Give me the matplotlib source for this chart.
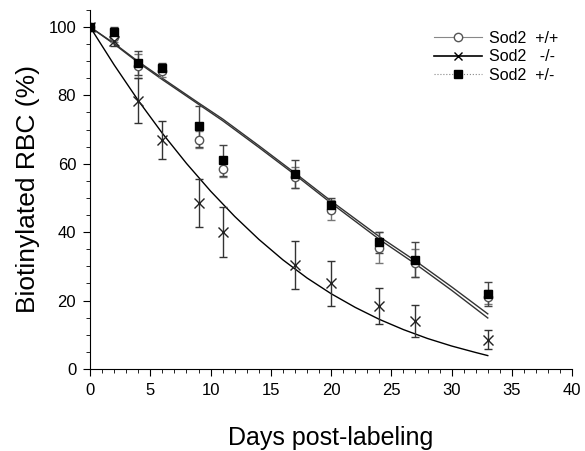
import matplotlib
matplotlib.use("Agg")
import matplotlib.pyplot as plt
from matplotlib.ticker import MultipleLocator

plt.rcParams['font.family'] = ['Liberation Sans', 'DejaVu Sans']

# measured points (days post-labeling)
days = [0, 2, 4, 6, 9, 11, 17, 20, 24, 27, 33]

wt = [100, 97, 88.5, 87, 67, 58.5, 56, 46.5, 35.5, 31, 21]          # Sod2 +/+
wt_err = [0, 1.5, 3.5, 1.5, 2.5, 2.5, 3, 3, 4.5, 4, 2]
ko = [100, 96, 78.5, 67, 48.5, 40, 30.5, 25, 18.5, 14, 8.5]         # Sod2 -/-
ko_err = [0, 1.5, 6.5, 5.5, 7, 7.3, 7, 6.5, 5.3, 4.6, 2.8]
het = [100, 98.5, 89.5, 88, 71, 61, 57, 48, 37, 32, 22]             # Sod2 +/-
het_err = [0, 1.5, 3.5, 1.5, 6, 4.5, 4, 2, 3, 5, 3.5]

# fitted curves
fit_days = [0, 2, 4, 6, 9, 11, 14, 17, 20, 24, 27, 30, 33]
wt_fit = [100, 95, 89.6, 84.6, 77.4, 72.6, 64.8, 56.8, 48.5, 37.9, 30.7, 23.0, 14.9]
het_fit = [100, 95.2, 89.9, 85, 77.8, 73.1, 65.3, 57.3, 49.1, 38.7, 31.6, 24.0, 16.1]
ko_days = [0, 2, 4, 6, 8, 10, 12, 14, 16, 18, 20, 22, 24, 26, 28, 30, 32, 33]
ko_fit = [100, 88.9, 78.5, 68.9, 60.1, 52.0, 44.6, 37.9, 31.9, 26.6, 22.0,
          18.0, 14.5, 11.5, 8.9, 6.7, 4.8, 3.9]

fig = plt.figure(figsize=(5.85, 4.51), dpi=100)
ax = fig.add_axes([0.154, 0.182, 0.824, 0.796])

# fit lines
ax.plot(fit_days, wt_fit, color='#333333', lw=1.0)
ax.plot(fit_days, het_fit, color='#333333', lw=1.0)
ax.plot(ko_days, ko_fit, color='black', lw=1.0)

# data with error bars
ax.errorbar(days, wt, yerr=wt_err, fmt='none', ecolor='#777777', elinewidth=1, capsize=3)
ax.errorbar(days, ko, yerr=ko_err, fmt='none', ecolor='#333333', elinewidth=1, capsize=3)
ax.errorbar(days, het, yerr=het_err, fmt='none', ecolor='#444444', elinewidth=1, capsize=3)
ax.plot(days, wt, 'o', mfc='white', mec='#555555', ms=6, mew=1, linestyle='none')
ax.plot(days, ko, 'x', color='#222222', ms=7, mew=1, linestyle='none')
ax.plot(days, het, 's', color='black', ms=6, linestyle='none')

# legend handles
h1, = ax.plot([], [], color='#888888', lw=0.8, marker='o', mfc='white', mec='#555555', ms=6)
h2, = ax.plot([], [], color='black', lw=1.2, marker='x', ms=6)
h3, = ax.plot([], [], color='#888888', lw=0.8, ls=':', marker='s', mfc='black', mec='black', ms=6)
ax.legend([h1, h2, h3], ['Sod2  +/+', 'Sod2   -/-', 'Sod2  +/-'], loc='upper right',
          bbox_to_anchor=(1.0, 0.982), frameon=False, fontsize=11.5,
          handlelength=3.0, labelspacing=0.22, handletextpad=0.4)

ax.set_xlim(0, 40)
ax.set_ylim(0, 105)
ax.set_xticks(range(0, 41, 5))
ax.set_yticks(range(0, 101, 20))
ax.xaxis.set_minor_locator(MultipleLocator(1))
ax.yaxis.set_minor_locator(MultipleLocator(5))
ax.tick_params(which='major', direction='out', length=5, labelsize=12, pad=5)
ax.tick_params(which='minor', direction='out', length=3)
ax.spines['top'].set_visible(False)
ax.spines['right'].set_visible(False)

ax.set_xlabel('Days post-labeling', fontsize=18, labelpad=20)
ax.set_ylabel('Biotinylated RBC (%)', fontsize=19, labelpad=6)

fig.savefig('out.png', dpi=100)
